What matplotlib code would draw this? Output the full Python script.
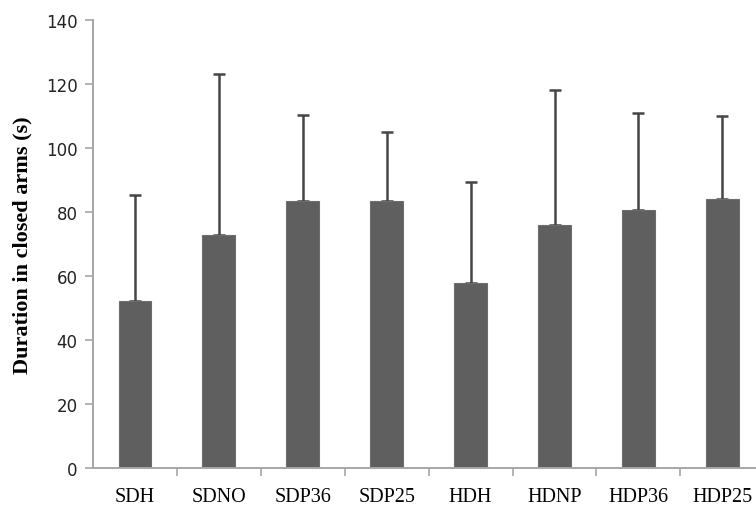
import matplotlib

matplotlib.use("Agg")
import matplotlib.pyplot as plt
import numpy as np

groups = ["SDH", "SDNO", "SDP36", "SDP25", "HDH", "HDNP", "HDP36", "HDP25"]
means = [52.1, 72.8, 83.4, 83.4, 57.8, 76.0, 80.5, 84.0]
upper = [85.4, 123.0, 110.4, 105.1, 89.3, 118.2, 110.9, 110.0]

BAR = "#5f5f5f"
AXIS = "#a6a6a6"


def main() -> None:
    plt.rcParams["font.family"] = "DejaVu Sans"
    fig = plt.figure(figsize=(7.56, 5.06), dpi=100)
    ax = fig.add_axes([0.123, 0.0731, 0.888, 0.8854])

    x = np.arange(len(groups))
    err = np.array(upper) - np.array(means)
    ax.bar(x, means, width=0.39, color=BAR, edgecolor="#6e6e6e", linewidth=0.8, zorder=2)
    ax.errorbar(
        x, means, yerr=[np.zeros_like(err), err], fmt="none",
        ecolor="#454545", elinewidth=1.8, capsize=4, capthick=1.8, zorder=1,
    )

    ax.set_xlim(-0.5, len(groups) - 0.5)
    ax.set_ylim(0, 140)
    ax.set_yticks(np.arange(0, 141, 20))
    ax.set_xticks(x)
    ax.set_xticklabels(groups, family="Liberation Serif", fontsize=14.5)
    ax.set_xticks(np.arange(0.5, len(groups) - 0.5, 1), minor=True)
    ax.tick_params(axis="x", which="major", length=0, pad=14)
    ax.tick_params(axis="x", which="minor", length=6, width=1.2, color=AXIS)
    ax.tick_params(axis="y", length=6, width=1.2, color=AXIS, labelsize=12,
                   labelcolor="#222222", pad=5)

    for side in ("top", "right"):
        ax.spines[side].set_visible(False)
    for side in ("left", "bottom"):
        ax.spines[side].set_color(AXIS)
        ax.spines[side].set_linewidth(1.4)

    ax.set_ylabel("Duration in closed arms (s)", family="Liberation Serif",
                  fontweight="bold", fontsize=16, labelpad=10)

    fig.savefig("out.png", dpi=100)
    plt.close(fig)


if __name__ == "__main__":
    main()
